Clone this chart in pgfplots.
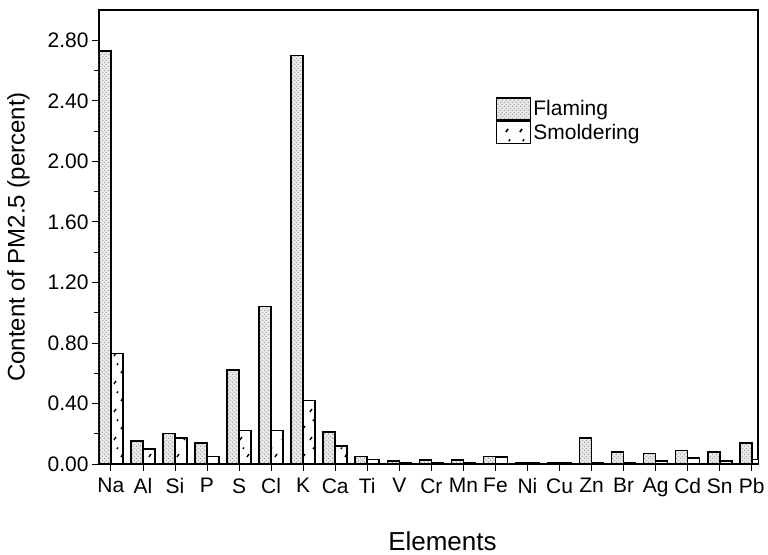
\documentclass[border=0pt]{standalone}
\usepackage{pgfplots}
\pgfplotsset{compat=1.18}
\usetikzlibrary{patterns}
\usepackage{fontspec}
\setmainfont{Liberation Sans}
\pgfdeclarepatternformonly{smold}{\pgfpoint{-1pt}{-1pt}}{\pgfpoint{15pt}{29pt}}{\pgfpoint{14pt}{28pt}}{%
  \pgfsetlinewidth{1.4pt}%
  \pgfpathmoveto{\pgfpoint{2pt}{3pt}}\pgfpathlineto{\pgfpoint{4pt}{6pt}}%
  \pgfpathmoveto{\pgfpoint{9pt}{14pt}}\pgfpathlineto{\pgfpoint{11pt}{17pt}}%
  \pgfpathmoveto{\pgfpoint{5pt}{22pt}}\pgfpathlineto{\pgfpoint{6pt}{23.5pt}}%
  \pgfusepath{stroke}}
\pgfdeclarepatternformonly{flam}{\pgfpoint{-1pt}{-1pt}}{\pgfpoint{5pt}{5pt}}{\pgfpoint{4pt}{4pt}}{%
  \pgfpathrectangle{\pgfpoint{0pt}{0pt}}{\pgfpoint{1.2pt}{1.2pt}}%
  \pgfpathrectangle{\pgfpoint{2pt}{2pt}}{\pgfpoint{1pt}{1pt}}%
  \pgfusepath{fill}}
\begin{document}
\begin{tikzpicture}
\begin{axis}[
  scale only axis,
  width=659pt, height=454pt,
  ybar=0pt, bar width=12pt,
  xmin=-0.37, xmax=20.19,
  ymin=0, ymax=3.0,
  xtick={0,...,20},
  xticklabels={Na,Al,Si,P,S,Cl,K,Ca,Ti,V,Cr,Mn,Fe,Ni,Cu,Zn,Br,Ag,Cd,Sn,Pb},
  ytick={0,0.4,...,2.81},
  minor ytick={0.2,0.6,...,2.61},
  yticklabel style={/pgf/number format/.cd,fixed,fixed zerofill,precision=2},
  /pgf/number format/assume math mode=true,
  tick label style={font=\fontsize{21}{24}\selectfont},
  xticklabel style={yshift=-4pt},
  tick align=outside,
  xtick pos=bottom, ytick pos=left,
  major tick length=7pt, minor tick length=5pt,
  tick style={black, line width=0.7pt},
  axis line style={line width=2pt},
  xlabel={Elements},
  xlabel style={font=\fontsize{26}{30}\selectfont, yshift=-28pt, xshift=14pt},
  ylabel={Content of PM2.5 (percent)},
  ylabel style={font=\fontsize{24}{28}\selectfont, yshift=11pt},
  legend style={draw=none, fill=none, at={(0.602,0.808)}, anchor=north west,
    font=\fontsize{21}{24}\selectfont, row sep=0pt, inner sep=0pt,
    cells={anchor=west, inner xsep=9pt}},
  legend image code/.code={%
    \fill[#1] (0pt,-11pt) rectangle (34pt,11pt);
    \path[#1, fill=none, draw=black, line width=1.5pt] (0pt,-11pt) rectangle (34pt,11pt);},
]
\addplot[draw=black, line width=1.5pt, fill=black!8,
  postaction={pattern=flam, pattern color=black!35}] coordinates {
(0,2.73) (1,0.15) (2,0.20) (3,0.14) (4,0.62) (5,1.04) (6,2.70) (7,0.21)
(8,0.05) (9,0.02) (10,0.025) (11,0.025) (12,0.05) (13,0.01) (14,0.005)
(15,0.17) (16,0.08) (17,0.07) (18,0.09) (19,0.08) (20,0.14)};
\addlegendentry{Flaming}
\addplot[draw=black, line width=1.5pt, fill=white,
  postaction={pattern=smold, pattern color=black}] coordinates {
(0,0.73) (1,0.10) (2,0.17) (3,0.05) (4,0.22) (5,0.22) (6,0.42) (7,0.12)
(8,0.03) (9,0.01) (10,0.005) (11,0.01) (12,0.045) (13,0.005) (14,0.005)
(15,0.01) (16,0.01) (17,0.02) (18,0.04) (19,0.02) (20,0.03)};
\addlegendentry{Smoldering}
\end{axis}
\path (current axis.south west) ++(-99pt,-91pt) coordinate (bbA);
\path (current axis.north east) ++(10pt,10pt) coordinate (bbB);
\useasboundingbox (bbA) rectangle (bbB);
\end{tikzpicture}
\end{document}
